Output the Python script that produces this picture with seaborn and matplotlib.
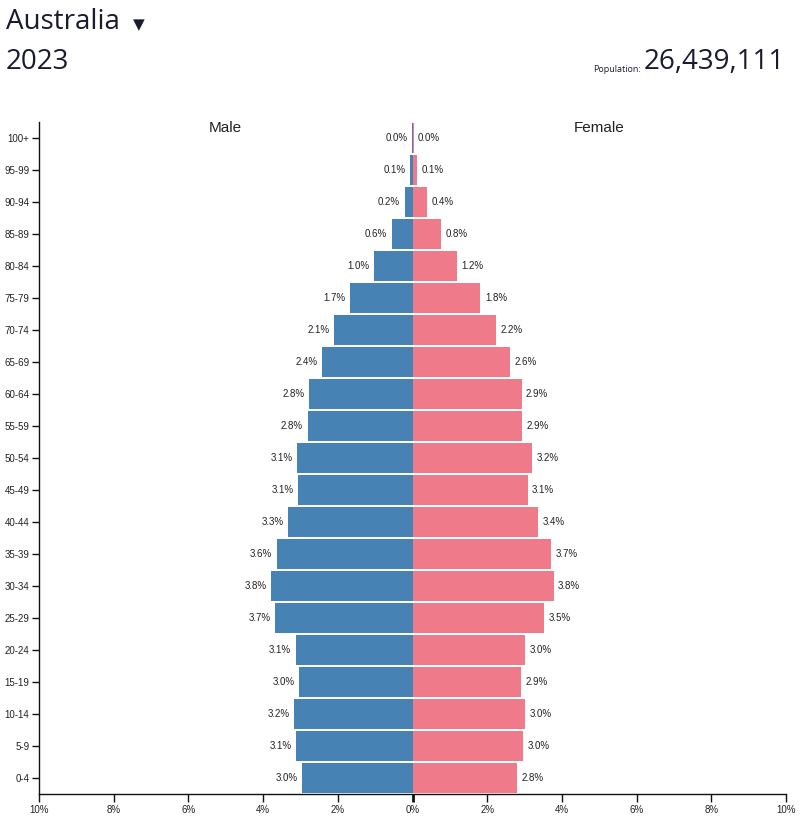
import matplotlib
matplotlib.use("Agg")
import matplotlib.pyplot as plt
import seaborn as sns
import pandas as pd
import numpy as np

ages = ["0-4", "5-9", "10-14", "15-19", "20-24", "25-29", "30-34", "35-39", "40-44",
        "45-49", "50-54", "55-59", "60-64", "65-69", "70-74", "75-79", "80-84",
        "85-89", "90-94", "95-99", "100+"]
male = [2.96, 3.11, 3.16, 3.03, 3.13, 3.67, 3.79, 3.63, 3.32, 3.07, 3.09, 2.81, 2.77,
        2.41, 2.09, 1.67, 1.02, 0.56, 0.21, 0.06, 0.004]
female = [2.81, 2.96, 3.01, 2.90, 3.01, 3.53, 3.78, 3.72, 3.37, 3.08, 3.21, 2.94, 2.92,
          2.60, 2.24, 1.82, 1.20, 0.76, 0.40, 0.13, 0.03]
xticks = [-10, -8, -6, -4, -2, 0, 2, 4, 6, 8, 10]
country = "Australia"
year = "2023"
population = "26,439,111"

MALE_C = "#4682b4"
FEMALE_C = "#ef7a89"

sns.set_theme(style="white")
plt.rcParams['font.family'] = ['Liberation Sans', 'DejaVu Sans']

order = ages[::-1]
df = pd.DataFrame({
    "age": ages + ages,
    "value": [-v for v in male] + female,
    "sex": ["Male"] * len(ages) + ["Female"] * len(ages),
})

fig = plt.figure(figsize=(8.02, 8.18), dpi=100)
ax = fig.add_axes([39 / 802, 1 - 794 / 818, 747 / 802, 672 / 818])

sns.barplot(data=df, x="value", y="age", hue="sex", order=order, dodge=False,
            palette={"Male": MALE_C, "Female": FEMALE_C}, width=0.965, saturation=1,
            linewidth=0, legend=False, ax=ax, orient="h")

ax.set_xlim(-10, 10)
ax.set_ylim(len(ages) - 0.5, -0.5)
ax.set_xlabel("")
ax.set_ylabel("")
ax.set_xticks(xticks)
ax.set_xticklabels([f"{abs(t)}%" for t in xticks], fontsize=7, color="#222222")
ax.tick_params(axis="x", bottom=True, length=6, width=1, color="#111111", pad=2)
ax.tick_params(axis="y", left=True, length=5, width=1, color="#111111", pad=2, labelsize=7,
               labelcolor="#222222")
for s in ["top", "right"]:
    ax.spines[s].set_visible(False)
for s in ["left", "bottom"]:
    ax.spines[s].set_color("#111111")
    ax.spines[s].set_linewidth(1.0)

# bold center tick
ax.get_xticklines()[10].set_markeredgewidth(2)

for i, age in enumerate(order):
    idx = ages.index(age)
    m = male[idx]
    f = female[idx]
    ax.text(-m - 0.12, i, f"{m:.1f}%", ha="right", va="center", fontsize=7, color="#222222")
    ax.text(f + 0.12, i, f"{f:.1f}%", ha="left", va="center", fontsize=7, color="#222222")

ax.text(-5.0, -0.31, "Male", ha="center", va="center", fontsize=11, color="#222222")
ax.text(5.0, -0.31, "Female", ha="center", va="center", fontsize=11, color="#222222")

title_font = ['Open Sans', 'DejaVu Sans']
fig.text(6 / 802, 1 - 22 / 818, country, ha="left", va="center", fontsize=20,
         color="#1b1b2f", family=title_font)
fig.text(6 / 802, 1 - 62 / 818, year, ha="left", va="center", fontsize=20,
         color="#1b1b2f", family=title_font)
fig.text(139 / 802, 1 - 25 / 818, "▼", ha="center", va="center", fontsize=11,
         color="#1b1b2f", family=['DejaVu Sans'])
fig.text(785 / 802, 1 - 62 / 818, population, ha="right", va="center", fontsize=20,
         color="#1b1b2f", family=title_font)
fig.text(641 / 802, 1 - 69 / 818, "Population:", ha="right", va="center", fontsize=6.5,
         color="#1b1b2f", family=title_font)

fig.savefig("out.png", dpi=100)
